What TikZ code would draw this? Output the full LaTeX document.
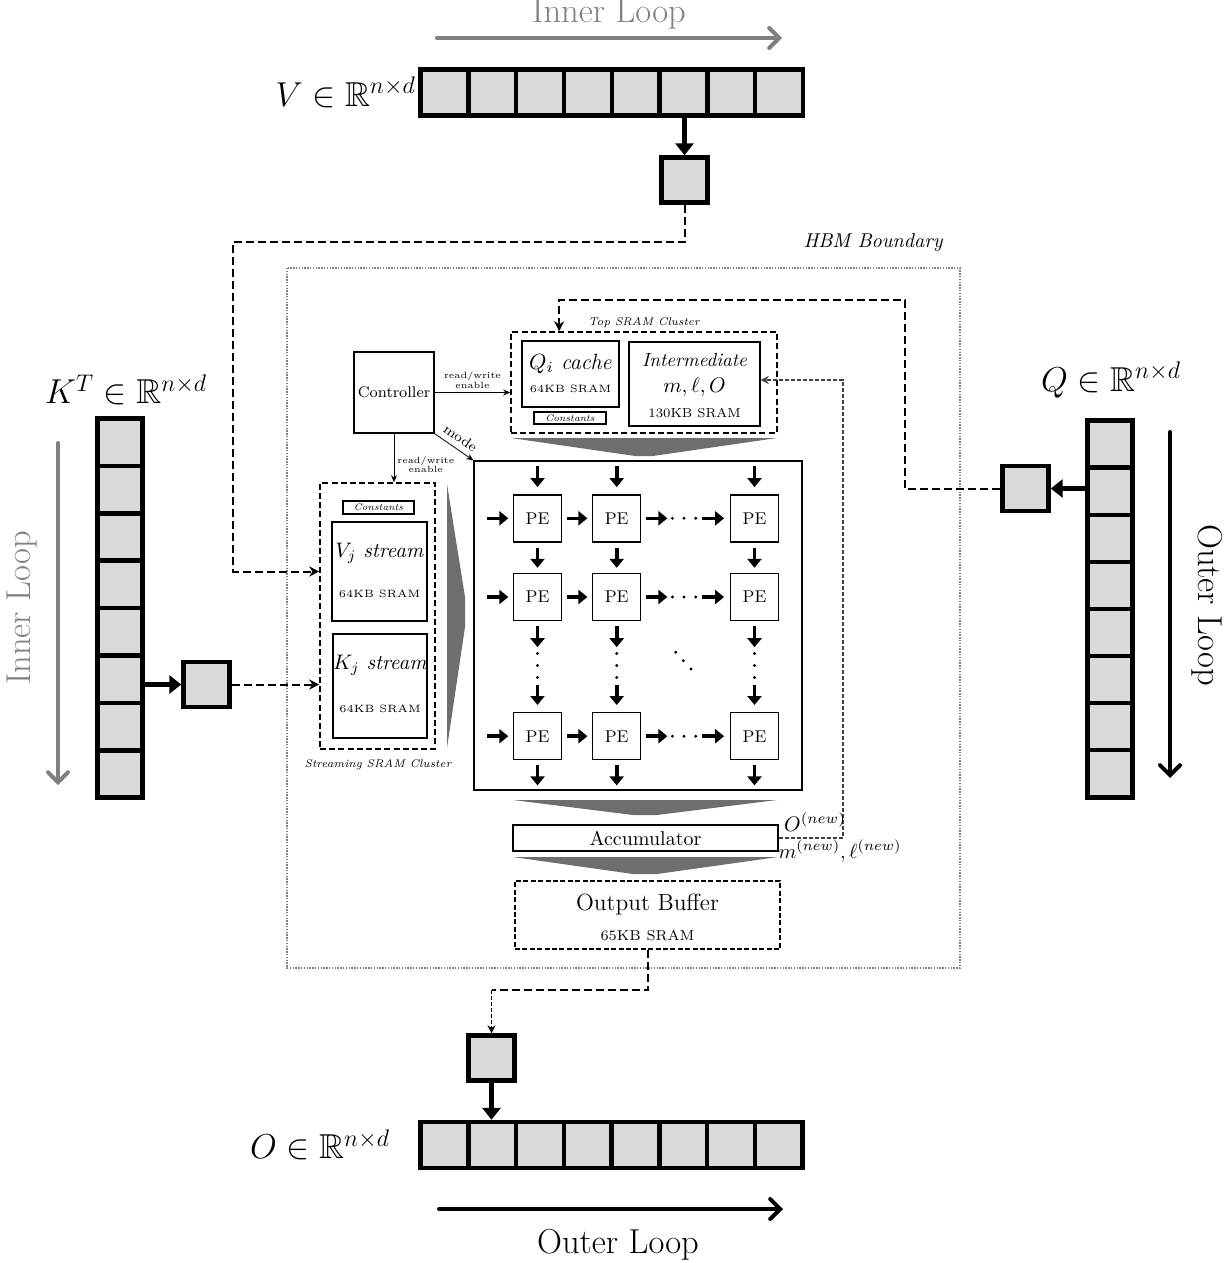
\RequirePackage{fix-cm}
\documentclass[tikz,border=0pt]{standalone}
\usepackage{fontspec}
\usepackage{amssymb}
\usetikzlibrary{positioning,arrows.meta,calc}

\begin{document}
\begin{tikzpicture}[x=0.5pt, y=-0.5pt,
      every node/.style={inner sep=0pt, align=center},
      cell/.style={draw, line width=2.2pt, fill=black!15,
                   minimum width=23.9pt, minimum height=23pt},
      vcell/.style={cell, minimum width=22.5pt, minimum height=23.6pt},
      blk/.style={cell, minimum width=23pt, minimum height=22.5pt},
      unit/.style={draw, line width=0.7pt, fill=white},
      clust/.style={draw, line width=0.8pt, dash pattern=on 3pt off 1.6pt},
      pe/.style={unit, minimum width=24pt, minimum height=23.5pt,
                 font=\fontsize{8.5}{10}\selectfont},
      sram/.style={font=\fontsize{5.3}{6}\selectfont},
      tinyf/.style={font=\fontsize{4.5}{4.6}\selectfont},
      constf/.style={unit, font=\fontsize{4.8}{5.5}\selectfont\itshape},
      clabel/.style={font=\fontsize{5.6}{6}\selectfont\itshape},
      title/.style={font=\fontsize{10.5}{12}\selectfont},
      matlab/.style={font=\LARGE},
      bigarr/.style={line width=2.4pt, -{Triangle[length=6pt,width=9pt]}},
      pearr/.style={line width=1.8pt, -{Triangle[length=4.5pt,width=7pt]}},
      looparr/.style={line width=2pt, line cap=round,
                      -{Straight Barb[length=5pt,width=10pt,line cap=round]}},
      dconn/.style={line width=1pt, dash pattern=on 4pt off 2pt,
                    -{Stealth[length=5pt,width=5pt]}},
      fbconn/.style={line width=0.6pt, dash pattern=on 2pt off 1pt, draw=black!75,
                     -{Stealth[length=4pt,width=4pt]}},
      ctl/.style={line width=0.4pt, -{Stealth[length=3.5pt,width=3pt]}},
      funnel/.style={fill=black!57},
  ]
    \useasboundingbox (0,0) rectangle (1225,1263);

    % V (top)
    \node[font=\LARGE, text=black!50] (inltop) at (609,14) {Inner Loop};
    \draw[looparr, draw=black!50] (437,38) -- (782,38);
    \foreach \i in {0,...,7}
      \node[cell] (v\i) at ({444.4+47.8*\i},92.5) {};
    \node[matlab, anchor=east] (vlab) at ([xshift=-1pt]v0.west) {$V\in\mathbb{R}^{n\times d}$};
    \node[blk] (vblk) at (684.5,180) {};
    \draw[bigarr] (vblk.north |- v5.south) -- (vblk.north);

    % HBM boundary
    \draw[draw=black!50, line width=1pt, dash pattern=on 0.7pt off 0.7pt]
      (287,268) rectangle (960,968);
    \node[font=\itshape] (hbml) at (873,243) {HBM Boundary};

    % top SRAM cluster
    \node[clust, minimum width=133pt, minimum height=50.5pt] (topcl) at (644,382.5) {};
    \node[clabel] (topl) at (644,323) {Top SRAM Cluster};
    \node[unit, minimum width=48.5pt, minimum height=33pt] (qc) at (570.5,374) {};
    \node[font=\fontsize{11}{13}\selectfont] (qct) at (570.5,364) {$Q_i$ \textit{cache}};
    \node[sram] (qcs) at (570.5,389) {64KB SRAM};
    \node[constf, minimum width=36pt, minimum height=6pt] (qconst) at (570,418) {Constants};
    \node[unit, minimum width=65.5pt, minimum height=42pt] (inter) at (694.5,384) {};
    \node[font=\fontsize{9.5}{11}\selectfont\itshape] (intt) at (694.5,360) {Intermediate};
    \node[font=\fontsize{10.5}{12}\selectfont] (intv) at (694.5,387) {$m,\ell,O$};
    \node[font=\fontsize{6.5}{7}\selectfont] (ints) at (694.5,413) {130KB SRAM};
    \fill[funnel] (511,438) -- (777,438) -- (653,456) -- (635,456) -- cycle;

    % controller
    \node[unit, minimum width=40pt, minimum height=40.5pt,
          font=\fontsize{7.7}{9}\selectfont] (ctrl) at (394,392.5) {Controller};

    % streaming SRAM cluster
    \node[clust, minimum width=57.5pt, minimum height=133pt] (strcl) at (377.5,616) {};
    \node[clabel] (strl) at (378,765) {Streaming SRAM Cluster};
    \node[constf, minimum width=35.5pt, minimum height=6.5pt] (sconst) at (378.5,507.5) {Constants};
    \node[unit, minimum width=47.5pt, minimum height=49.5pt] (vj) at (379.5,571.5) {};
    \node[title] (vjt) at (379.5,553) {$V_j$ \textit{stream}};
    \node[sram] (vjs) at (379.5,594) {64KB SRAM};
    \node[unit, minimum width=47pt, minimum height=52pt] (kj) at (380,686) {};
    \node[title] (kjt) at (380,665) {$K_j$ \textit{stream}};
    \node[sram] (kjs) at (380,709) {64KB SRAM};
    \fill[funnel] (447,484) -- (465,597) -- (465,627) -- (447,748) -- cycle;

    \draw[ctl] (ctrl.east) -- (ctrl.east -| topcl.west)
      node[midway, above=2pt, tinyf] {read/write\\enable};
    \draw[ctl] (ctrl.south) -- (ctrl.south |- strcl.north)
      node[pos=0.64, right=1.5pt, tinyf] {read/write\\enable};

    % PE array
    \node[draw, line width=0.6pt, minimum width=164pt, minimum height=164.5pt] (pegrid) at (638,625.5) {};
    \draw[ctl] (ctrl.south east) -- (pegrid.north west)
      node[pos=0.5, above=3pt, sloped, font=\fontsize{7}{8}\selectfont] {mode};
    \foreach \r/\y in {1/518.3,2/597,3/736.2}
      \foreach \c/\x in {1/537.5,2/616.7,3/754.5}
        \node[pe] (p\r\c) at (\x,\y) {PE};
    \foreach \c in {1,2,3} {
      \draw[pearr] (p1\c.north) ++(0,-28) -- ++(0,21);
      \draw[pearr, shorten <=2.5pt, shorten >=2.5pt] (p1\c.south) -- (p2\c.north);
      \draw[pearr] (p2\c.south) ++(0,5) -- ++(0,21);
      \draw[pearr] (p3\c.north) ++(0,-27) -- ++(0,20);
      \draw[pearr] (p3\c.south) ++(0,5) -- ++(0,20);
      \foreach \d in {32.3,44.3,56.3}
        \fill ($(p2\c.south)+(0,\d)$) circle (0.8pt);
    }
    \foreach \r in {1,2,3} {
      \draw[pearr] (p\r1.west) ++(-26,0) -- ++(21.5,0);
      \draw[pearr, shorten <=2.3pt, shorten >=2.3pt] (p\r1.east) -- (p\r2.west);
      \draw[pearr] (p\r2.east) ++(4.3,0) -- ++(21.7,0);
      \draw[pearr] (p\r3.west) ++(-27.4,0) -- ++(21.7,0);
      \foreach \d in {31,42.6,54.3}
        \fill ($(p\r2.east)+(\d,0)$) circle (0.8pt);
    }
    \foreach \p in {(675.7,652.3),(683.3,660.7),(691,669)}
      \fill \p circle (0.8pt);
    \fill[funnel] (513,800) -- (777,800) -- (657,815) -- (633,815) -- cycle;

    % accumulator and output buffer
    \node[unit, minimum width=132.5pt, minimum height=13pt] (acc) at (645.5,838) {Accumulator};
    \fill[funnel] (513,857) -- (778,857) -- (657,874) -- (633,874) -- cycle;
    \node[draw, line width=0.6pt, dash pattern=on 2.5pt off 1.2pt,
          minimum width=132.5pt, minimum height=34pt] (obuf) at (647.5,915) {};
    \node[font=\fontsize{11.7}{13}\selectfont] (obuft) at (647.5,905) {Output Buffer};
    \node[font=\fontsize{7.2}{8}\selectfont] (obufs) at (647.5,935) {65KB SRAM};

    \draw[fbconn] (acc.east) -| (843,380) -- ([yshift=2pt]inter.east);
    \node[font=\fontsize{10.5}{12}\selectfont] (onew) at (815,822) {$O^{(new)}$};
    \node[font=\fontsize{10.2}{12}\selectfont] (mlnew) at (840,851) {$m^{(new)},\ell^{(new)}$};

    % K (left)
    \node[font=\LARGE, text=black!50, rotate=90] (inlleft) at (22,608) {Inner Loop};
    \draw[looparr, draw=black!50] (58,443) -- (58,785);
    \foreach \i in {0,...,7}
      \node[vcell] (k\i) at (120,{442.2+47.4*\i}) {};
    \node[matlab] (klab) at (126,390) {$K^T\in\mathbb{R}^{n\times d}$};
    \node[blk] (kblk) at (206.5,684.5) {};
    \draw[bigarr] (k5.east |- kblk.west) -- (kblk.west);
    \draw[dconn] (kblk.east) -- (kblk.east -| strcl.west);
    \draw[dconn] (vblk.south) |- (233,242) |- (strcl.west |- vj.west);

    % Q (right)
    \foreach \i in {0,...,7}
      \node[vcell] (q\i) at (1110,{444.1+47.1*\i}) {};
    \node[matlab] (qlab) at (1111,380) {$Q\in\mathbb{R}^{n\times d}$};
    \node[font=\LARGE, rotate=-90] (outlright) at (1207,605) {Outer Loop};
    \draw[looparr] (1170,432) -- (1170,778);
    \node[blk] (qblk) at (1025.5,488.5) {};
    \draw[bigarr] (q1.west |- qblk.east) -- (qblk.east);
    \draw[dconn] (qblk.west) -| (905,300) -| ($(topcl.north west)+(49,0)$);

    % O (bottom)
    \foreach \i in {0,...,7}
      \node[cell] (o\i) at ({444.5+47.75*\i},1145) {};
    \node[matlab, left=14pt of o0] (olab) {$O\in\mathbb{R}^{n\times d}$};
    \node[blk] (oblk) at (491.5,1058) {};
    \draw[dconn, -] (obuf.south) |- (491.5,990) coordinate (obend);
    \draw[line width=0.6pt, dash pattern=on 2pt off 1pt, -{Stealth[length=4pt,width=4pt]}]
      (obend) -- (oblk.north);
    \draw[bigarr] (oblk.south) -- (oblk.south |- o1.north);
    \draw[looparr] (439,1209) -- (783,1209);
    \node[font=\LARGE] (outlbot) at (618,1245) {Outer Loop};
  \end{tikzpicture}
\end{document}
